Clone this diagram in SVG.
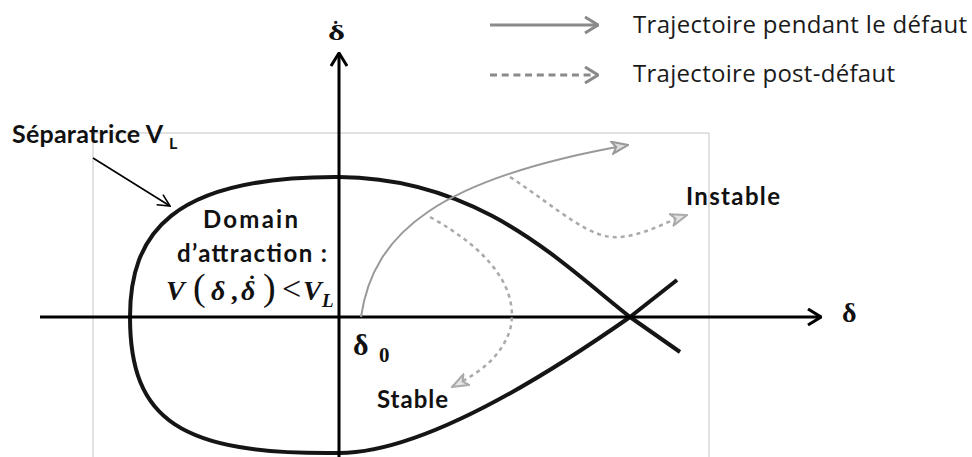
<svg xmlns="http://www.w3.org/2000/svg" width="972" height="457" viewBox="0 0 972 457">
<style>
.lbl{font-family:Lato,"Open Sans","Liberation Sans",sans-serif;font-weight:bold;fill:#111}
.leg{font-family:"Open Sans","Noto Sans","Liberation Sans",sans-serif;fill:#1a1a1a}
.tm{font-family:"Liberation Serif","DejaVu Serif",serif;font-weight:bold;fill:#111}
.ax{stroke:#000;stroke-width:3;fill:none}
.sep{stroke:#151515;stroke-width:4;fill:none;stroke-linejoin:round}
.traj{stroke:#999;stroke-width:2;fill:none}
.post{stroke:#aaa;stroke-width:2.5;fill:none;stroke-dasharray:4 4}
</style>
<defs>
<marker id="axhead" viewBox="0 0 15 18" refX="14" refY="9" markerWidth="15" markerHeight="18" markerUnits="userSpaceOnUse" orient="auto">
<path d="M1,1 L14,9 L1,17" fill="none" stroke="#000" stroke-width="3"/>
</marker>
<marker id="leghead" viewBox="0 0 15 18" refX="14" refY="9" markerWidth="15" markerHeight="18" markerUnits="userSpaceOnUse" orient="auto">
<path d="M1,1 L14,9 L1,17" fill="none" stroke="#8a8a8a" stroke-width="3"/>
</marker>
<marker id="trhead" viewBox="0 0 18 14" refX="17" refY="7" markerWidth="18" markerHeight="14" markerUnits="userSpaceOnUse" orient="auto">
<path d="M1,1 L17,7 L1,13 L5,7 Z" fill="#ddd" stroke="#999" stroke-width="2"/>
</marker>
<marker id="pohead" viewBox="0 0 18 14" refX="17" refY="7" markerWidth="18" markerHeight="14" markerUnits="userSpaceOnUse" orient="auto">
<path d="M1,1 L17,7 L1,13 L5,7 Z" fill="#e4e4e4" stroke="#aaa" stroke-width="2"/>
</marker>
<marker id="thin" viewBox="0 0 14 14" refX="13" refY="7" markerWidth="14" markerHeight="14" markerUnits="userSpaceOnUse" orient="auto">
<path d="M1,1 L13,7 L1,13" fill="none" stroke="#000" stroke-width="1.6"/>
</marker>
</defs>
<rect width="972" height="457" fill="#fff"/>
<g id="frame">
<path d="M93,457 L93,133 L709,133 L709,457" fill="none" stroke="#c4c4c4" stroke-width="1"/>
</g>
<g id="separatrix">
<path class="sep" d="M680,352 L630,317 C560,262 480,178 339,177 C170,176 130,235 130,317 C130,420 180,455 339,453 C420,453 540,380 630,317 L677,280"/>
</g>
<g id="connectors">
<line class="ax" x1="339" y1="457" x2="339" y2="53" marker-end="url(#axhead)"/>
<line class="ax" x1="40" y1="317" x2="821" y2="317" marker-end="url(#axhead)"/>
<path class="traj" d="M361,317 C373,232 440,178 628,145" marker-end="url(#trhead)"/>
<path class="post" d="M430,217 C490,250 520,290 510,330 C500,360 475,375 452,387" marker-end="url(#pohead)"/>
<path class="post" d="M510,177 C560,210 590,240 620,237 C645,235 665,222 687,215" marker-end="url(#pohead)"/>
<line x1="93" y1="158" x2="170" y2="206" stroke="#000" stroke-width="1.6" marker-end="url(#thin)"/>
</g>
<g id="legend">
<line x1="490" y1="25" x2="598" y2="25" stroke="#8a8a8a" stroke-width="3" marker-end="url(#leghead)"/>
<text class="leg" x="633" y="33" font-size="24" textLength="334">Trajectoire pendant le défaut</text>
<line x1="490" y1="75" x2="598" y2="75" stroke="#8a8a8a" stroke-width="3" stroke-dasharray="7 4.7" marker-end="url(#leghead)"/>
<text class="leg" x="633" y="82" font-size="24" textLength="262">Trajectoire post-défaut</text>
</g>
<g id="label-separatrice">
<text class="lbl" x="12" y="143" font-size="25" textLength="151">Séparatrice V</text>
<text class="lbl" x="169" y="149" font-size="16">L</text>
</g>
<g id="label-domain">
<text class="lbl" x="203" y="228" font-size="24" textLength="95">Domain</text>
<text class="lbl" x="177" y="262" font-size="24" textLength="150">d’attraction :</text>
<text class="tm" font-style="italic" font-size="28" y="300"><tspan x="166">V</tspan><tspan x="193" font-size="38" font-style="normal" font-weight="normal">(</tspan><tspan x="211">δ</tspan><tspan x="232">,</tspan><tspan x="241">δ</tspan><tspan x="248" y="292" font-size="24" font-style="normal">˙</tspan><tspan x="263" y="300" font-size="38" font-style="normal" font-weight="normal">)</tspan><tspan x="282" font-size="34" font-style="normal" font-weight="normal">&lt;</tspan><tspan x="303">V</tspan><tspan x="322" y="307" font-size="19">L</tspan></text>
</g>
<g id="label-axes">
<text class="tm" x="842" y="322" font-size="28">δ</text>
<text class="tm" x="328" y="40" font-size="21"><tspan textLength="17" lengthAdjust="spacingAndGlyphs">δ</tspan><tspan x="332" y="36" font-size="22">˙</tspan></text>
<text class="tm" x="353" y="355" font-size="30">δ</text>
<text class="tm" x="379" y="362" font-size="21" font-weight="normal">0</text>
</g>
<g id="label-stable">
<text class="lbl" x="377" y="408" font-size="24" textLength="71">Stable</text>
</g>
<g id="label-instable">
<text class="lbl" x="686" y="205" font-size="24" textLength="94">Instable</text>
</g>
</svg>
